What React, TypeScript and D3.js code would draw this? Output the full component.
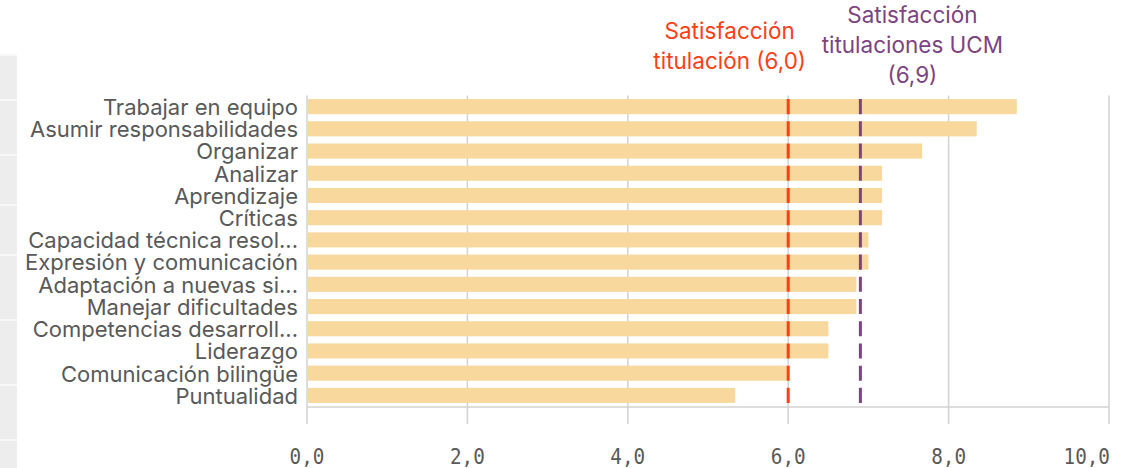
import React from 'react'
import * as d3 from 'd3'

// competencias, ordenadas como en el original
const categories = [
  'Trabajar en equipo',
  'Asumir responsabilidades',
  'Organizar',
  'Analizar',
  'Aprendizaje',
  'Críticas',
  'Capacidad técnica resol...',
  'Expresión y comunicación',
  'Adaptación a nuevas si...',
  'Manejar dificultades',
  'Competencias desarroll...',
  'Liderazgo',
  'Comunicación bilingüe',
  'Puntualidad'
]
const values = [8.85, 8.35, 7.67, 7.17, 7.17, 7.17, 7.0, 7.0, 6.85, 6.85, 6.5, 6.5, 6.0, 5.34]

const tickValues = [0, 2, 4, 6, 8, 10]

const refLines = [
  { value: 6.0, lines: ['Satisfacción', 'titulación (6,0)'], color: '#ff3f16', dx: -58.5, top: 39 },
  { value: 6.9, lines: ['Satisfacción', 'titulaciones UCM', '(6,9)'], color: '#7c4482', dx: 52, top: 23 }
]

const width = 1124
const height = 468
const margin = { top: 95.5, right: 15, bottom: 61, left: 307 }

const fmt = (d: number) => d3.format('.1f')(d).replace('.', ',')

export default function App () {
  const x = d3.scaleLinear()
    .domain([0, 10])
    .range([margin.left, width - margin.right])

  const y = d3.scaleBand<string>()
    .domain(categories)
    .range([margin.top, height - margin.bottom - 0.5])
    .paddingInner(0.32)
    .paddingOuter(0.16)

  const bw = y.bandwidth()
  const step = y.step()
  const plotBottom = height - margin.bottom
  const firstTop = y(categories[0]) as number
  const lastBottom = (y(categories[categories.length - 1]) as number) + bw

  return (
    <svg width={width} height={height}
      style={{ position: 'absolute', left: 0, top: 0, background: '#fff' }}
      fontFamily='Inter, sans-serif'>
      {/* trozo de la interfaz a la izquierda */}
      <rect x={0} y={55} width={17} height={413} fill='#ededed' />
      {[55, 100, 155, 205, 255, 320, 385, 440].map((yy, i) => (
        <line key={i} x1={0} x2={17} y1={yy} y2={yy} stroke='#f8f8f8' strokeWidth={2} />
      ))}

      {/* rejilla */}
      {tickValues.map(t => (
        <line key={t} x1={x(t)} x2={x(t)} y1={margin.top} y2={plotBottom + 17}
          stroke='#d2d2d2' strokeWidth={1.5} />
      ))}
      <line x1={x(0)} x2={x(10)} y1={plotBottom} y2={plotBottom} stroke='#d2d2d2' strokeWidth={1.5} />

      {/* barras */}
      {categories.map((c, i) => (
        <rect key={c} x={x(0) + 1} y={y(c)} width={x(values[i]) - x(0) - 1} height={bw} fill='#f9d89e' />
      ))}

      {/* etiquetas de categoría */}
      {categories.map(c => (
        <text key={c} x={margin.left - 9} y={(y(c) as number) + bw / 2} dy='0.38em'
          textAnchor='end' fontSize={22} fill='#595959'>{c}</text>
      ))}

      {/* líneas de referencia */}
      {refLines.map(r => (
        <g key={r.value}>
          <line x1={x(r.value)} x2={x(r.value)} y1={firstTop} y2={lastBottom}
            stroke={r.color} strokeWidth={3} strokeDasharray={`${bw} ${step - bw}`} />
          {r.lines.map((l, j) => (
            <text key={j} x={x(r.value) + r.dx} y={r.top + j * 30}
              textAnchor='middle' fontSize={22.5} fill={r.color}>{l}</text>
          ))}
        </g>
      ))}

      {/* eje x */}
      {tickValues.map((t, i) => (
        <text key={t} transform={`translate(${x(t) + (i === tickValues.length - 1 ? 1 : 0)},464) scale(0.92,1)`}
          textAnchor={i === tickValues.length - 1 ? 'end' : 'middle'}
          fontFamily='DejaVu Sans Mono, monospace' fontSize={21} fill='#595959'>{fmt(t)}</text>
      ))}
    </svg>
  )
}
